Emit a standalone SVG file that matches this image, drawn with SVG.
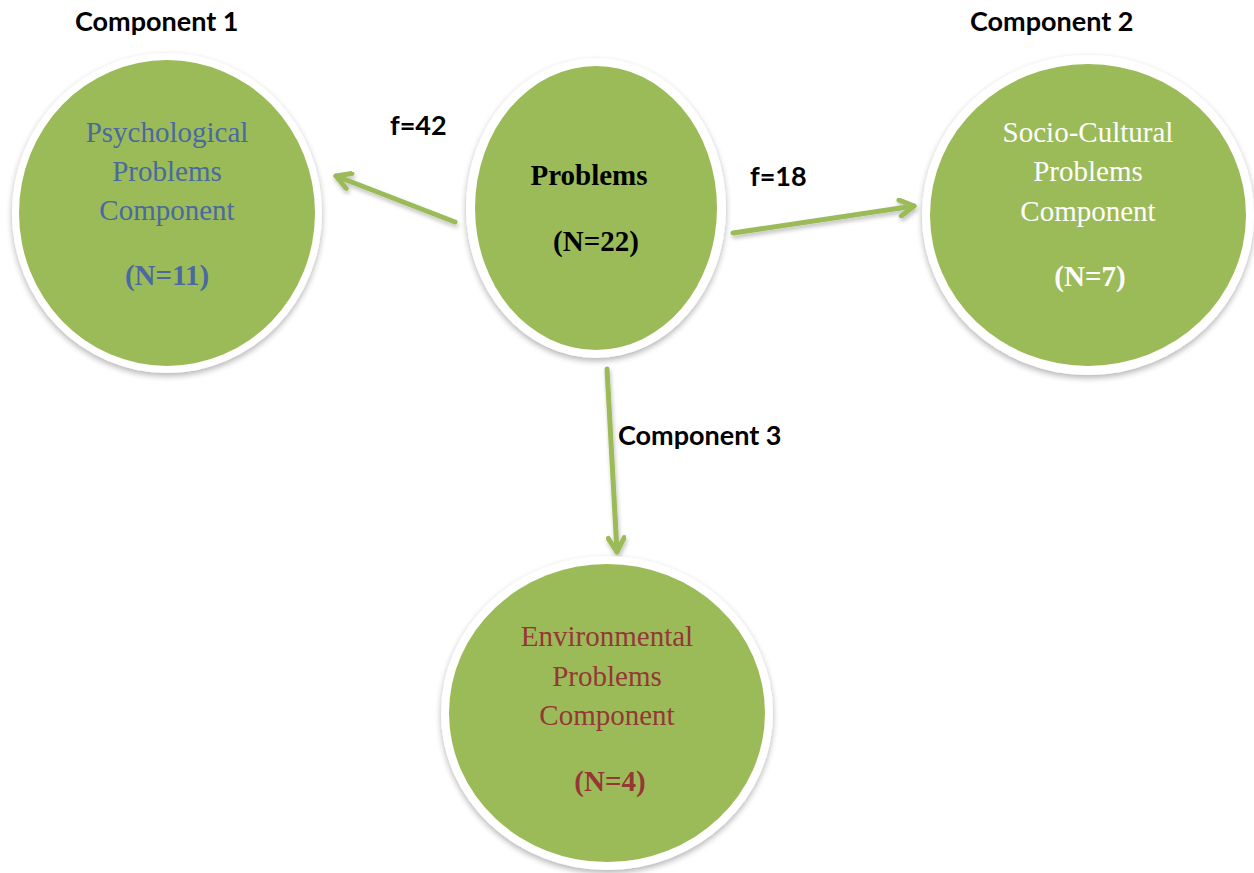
<svg xmlns="http://www.w3.org/2000/svg" width="1254" height="873" viewBox="0 0 1254 873">
<defs>
<filter id="sh" x="-10%" y="-10%" width="120%" height="125%">
<feGaussianBlur in="SourceAlpha" stdDeviation="3"/>
<feOffset dx="0" dy="3" result="b"/>
<feComponentTransfer><feFuncA type="linear" slope="0.3"/></feComponentTransfer>
<feMerge><feMergeNode/><feMergeNode in="SourceGraphic"/></feMerge>
</filter>
<filter id="ash" x="-10%" y="-30%" width="120%" height="160%">
<feGaussianBlur in="SourceAlpha" stdDeviation="2"/>
<feOffset dx="1" dy="3" result="b"/>
<feComponentTransfer><feFuncA type="linear" slope="0.25"/></feComponentTransfer>
<feMerge><feMergeNode/><feMergeNode in="SourceGraphic"/></feMerge>
</filter>
<marker id="ah" viewBox="0 0 20 20" refX="17" refY="10" markerWidth="20" markerHeight="20" markerUnits="userSpaceOnUse" orient="auto">
<path d="M3,2 L17,10 L3,18" fill="none" stroke="#9bbb59" stroke-width="5" stroke-linecap="round" stroke-linejoin="round"/>
</marker>
</defs>
<style>
.ring{fill:#ffffff;}
.disc{fill:#9bbb59;}
.lbl{font-family:Lato,"Open Sans",sans-serif;font-weight:bold;font-size:27px;fill:#000;}
.t{font-family:"Liberation Serif","Times New Roman",serif;font-size:29px;text-anchor:middle;}
.b{font-weight:bold;}
.conn{stroke:#9bbb59;stroke-width:5;fill:none;stroke-linecap:round;}
</style>
<rect width="1254" height="873" fill="#ffffff"/>

<g id="connectors" filter="url(#ash)">
<line class="conn" x1="455" y1="222" x2="336" y2="176" marker-end="url(#ah)"/>
<line class="conn" x1="733" y1="233" x2="914" y2="206" marker-end="url(#ah)"/>
<line class="conn" x1="607" y1="369" x2="617" y2="552" marker-end="url(#ah)"/>
</g>

<g id="labels">
<text class="lbl" x="75" y="31">Component 1</text>
<text class="lbl" x="970" y="31">Component 2</text>
<text class="lbl" x="390" y="135">f=42</text>
<text class="lbl" x="750" y="186">f=18</text>
<text class="lbl" x="618" y="445">Component 3</text>
</g>

<g id="node-psychological">
<ellipse class="ring" cx="167" cy="213" rx="155" ry="160" filter="url(#sh)"/>
<ellipse class="disc" cx="167" cy="213" rx="148" ry="153"/>
<g class="t" fill="#4a69a0">
<text x="167" y="142">Psychological</text>
<text x="167" y="181">Problems</text>
<text x="167" y="220">Component</text>
<text x="167" y="285" class="b">(N=11)</text>
</g>
</g>

<g id="node-problems">
<ellipse class="ring" cx="596" cy="208" rx="130" ry="150" filter="url(#sh)"/>
<ellipse class="disc" cx="596" cy="208" rx="121" ry="142"/>
<g class="t" fill="#000000">
<text x="589" y="185" class="b">Problems</text>
<text x="596" y="251" class="b">(N=22)</text>
</g>
</g>

<g id="node-sociocultural">
<ellipse class="ring" cx="1088" cy="215" rx="166" ry="160" filter="url(#sh)"/>
<ellipse class="disc" cx="1088" cy="215" rx="158" ry="151"/>
<g class="t" fill="#ffffff">
<text x="1088" y="142">Socio-Cultural</text>
<text x="1088" y="181">Problems</text>
<text x="1088" y="221">Component</text>
<text x="1090" y="286" class="b">(N=7)</text>
</g>
</g>

<g id="node-environmental">
<ellipse class="ring" cx="607" cy="713" rx="166" ry="157" filter="url(#sh)"/>
<ellipse class="disc" cx="607" cy="713" rx="158" ry="149"/>
<g class="t" fill="#953735">
<text x="607" y="646">Environmental</text>
<text x="607" y="686">Problems</text>
<text x="607" y="725">Component</text>
<text x="610" y="791" class="b">(N=4)</text>
</g>
</g>
</svg>
